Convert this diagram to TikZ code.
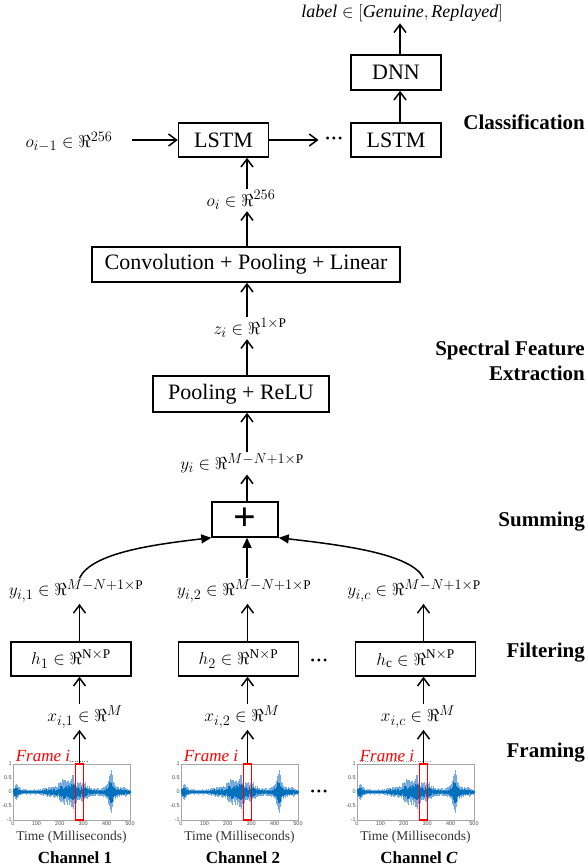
\documentclass[tikz,border=0pt]{standalone}
\usepackage{fontspec}
\setmainfont{Liberation Serif}
\newfontfamily\tickfont{Liberation Sans}
\usepackage{xcolor}
\usetikzlibrary{arrows.meta}

\definecolor{wavedarkc}{RGB}{0,114,189}
\definecolor{wavelightc}{RGB}{120,172,222}

\newcommand{\boxfont}{\fontsize{22}{26}\selectfont}
\newcommand{\labfont}{\fontsize{19}{22}\selectfont}
\newcommand{\headfont}{\fontsize{21}{25}\selectfont\bfseries}

% one channel: left edge, name of the frame box, channel text
\newcommand{\waveplot}[3]{%
	\begin{scope}[shift={(#1,792)}]
		\draw[plotframe] (0,-28) rectangle (117,28);
		\pgfmathsetseed{11}
		\foreach \ms in {0,2,...,500}{
			\pgfmathsetmacro{\wup}{28*env(\ms)*(0.45+0.55*rnd)}
			\pgfmathsetmacro{\wdn}{28*env(\ms)*(0.45+0.55*rnd)}
			\draw[wavelight] (0.234*\ms,-\wup) -- (0.234*\ms,\wdn);
		}
		\pgfmathsetseed{23}
		\foreach \ms in {0,2,...,500}{
			\pgfmathsetmacro{\wup}{15*env(\ms)*(0.3+0.7*rnd)}
			\pgfmathsetmacro{\wdn}{15*env(\ms)*(0.3+0.7*rnd)}
			\draw[wavedark] (0.234*\ms,-\wup) -- (0.234*\ms,\wdn);
		}
		\foreach \v/\l in {-28/1,-14/0.5,0/0,14/-0.5,28/-1}
			\node[ticklab, anchor=east] at (0,\v) {\l};
		\foreach \k in {0,...,5}{
			\pgfmathtruncatemacro{\ticklbl}{100*\k}
			\node[ticklab, anchor=north] at (23.4*\k,28) {\ticklbl};
		}
		\node[framebox] (#2) at (66.5,0) {};
		\node[framelab] at (30,-36) {Frame i};
		\node[timelab] at (58.5,45) {Time (Milliseconds)};
		\node[chanlab] at (62,66) {#3};
	\end{scope}}

\begin{document}
\begin{tikzpicture}[x=1pt,y=-1pt,
	declare function={bump(\t,\c,\w)=1/(1+((\t-\c)/\w)*((\t-\c)/\w));
		env(\t)=0.07+0.25*bump(\t,12,12)+0.08*bump(\t,150,12)+0.35*bump(\t,215,25)+0.45*bump(\t,255,15)+0.25*bump(\t,300,20)+0.8*bump(\t,418,10)+0.1*bump(\t,470,15);},
	block/.style={draw, line width=1.5pt, inner sep=0pt, font=\boxfont},
	lab/.style={font=\labfont, inner sep=1.5pt},
	head/.style={font=\headfont, anchor=east, align=right, inner sep=0pt},
	arr/.style={line width=1.5pt, -{Straight Barb[length=8pt,width=12pt]}},
	sumarr/.style={line width=1.5pt, -{Triangle[length=10pt,width=9pt]}},
	dotsnode/.style={font=\fontsize{12}{12}\selectfont, inner sep=1pt},
	plotframe/.style={draw=black!35, line width=0.4pt},
	wavelight/.style={wavelightc, line width=0.55pt},
	wavedark/.style={wavedarkc, line width=0.55pt},
	ticklab/.style={font=\tickfont\fontsize{5.5}{6}\selectfont, text=black!70, inner sep=1pt},
	framebox/.style={draw=red, line width=1.6pt, minimum width=8pt, minimum height=56pt, inner sep=0pt},
	framelab/.style={font=\fontsize{17}{20}\selectfont\itshape, text=red, inner sep=0pt},
	timelab/.style={font=\fontsize{13.5}{16}\selectfont, text=black!80, inner sep=0pt},
	chanlab/.style={font=\fontsize{17}{20}\selectfont\bfseries, inner sep=0pt}]
	\useasboundingbox (0,0) rectangle (588,868);

	% columns of the arrows
	\coordinate (ctop) at (400,0);
	\coordinate (cmid) at (247,0);

	% classification
	\node[lab, font=\fontsize{18}{22}\selectfont] (out) at (402,13) {$\mathit{label}\in[\mathit{Genuine},\mathit{Replayed}]$};
	\node[block, minimum width=90pt, minimum height=35pt] (dnn) at (396,72.5) {DNN};
	\node[block, minimum width=90pt, minimum height=34pt] (lstmb) at (396,140) {LSTM};
	\node[block, minimum width=90pt, minimum height=34pt] (lstma) at (223.5,140) {LSTM};
	\node[dotsnode] (dots) at (334,140) {\textbullet\kern2pt\textbullet\kern2pt\textbullet};
	\node[lab] (oprev) at (69,142) {$o_{i-1}\in\Re^{256}$};
	\node[lab] (oi) at (241,200) {$o_i\in\Re^{256}$};

	% spectral feature extraction
	\node[block, minimum width=308pt, minimum height=35pt] (conv) at (246,264.5) {Convolution + Pooling + Linear};
	\node[lab] (zi) at (250,328) {$z_i\in\Re^{1\times\mathrm{P}}$};
	\node[block, minimum width=176pt, minimum height=36pt] (pool) at (241,394) {Pooling + ReLU};
	\node[lab] (yi) at (242,463) {$y_i\in\Re^{M-N+1\times\mathrm{P}}$};

	% summing
	\node[block, minimum width=66pt, minimum height=35pt, font=\fontsize{40}{40}\selectfont\bfseries] (plus) at (245,519.5) {+};
	\node[lab] (y1) at (76,591) {$y_{i,1}\in\Re^{M-N+1\times\mathrm{P}}$};
	\node[lab] (y2) at (244,591) {$y_{i,2}\in\Re^{M-N+1\times\mathrm{P}}$};
	\node[lab] (yc) at (414,591) {$y_{i,c}\in\Re^{M-N+1\times\mathrm{P}}$};

	% filtering
	\node[block, minimum width=120pt, minimum height=34pt, font=\labfont] (h1) at (71,659) {$h_1\in\Re^{\mathrm{N}\times\mathrm{P}}$};
	\node[block, minimum width=120pt, minimum height=34pt, font=\labfont] (h2) at (238.5,659) {$h_2\in\Re^{\mathrm{N}\times\mathrm{P}}$};
	\node[block, minimum width=120pt, minimum height=34pt, font=\labfont] (hc) at (415.5,659) {$h_\mathrm{c}\in\Re^{\mathrm{N}\times\mathrm{P}}$};
	\node[dotsnode] (dotsh) at (319,662) {\textbullet\kern2pt\textbullet\kern2pt\textbullet};
	\node[lab] (x1) at (85,717) {$x_{i,1}\in\Re^{M}$};
	\node[lab] (x2) at (242,717) {$x_{i,2}\in\Re^{M}$};
	\node[lab] (xc) at (418,717) {$x_{i,c}\in\Re^{M}$};

	% framing
	\waveplot{13}{f1}{Channel 1}
	\waveplot{181}{f2}{Channel 2}
	\waveplot{357}{fc}{Channel \textit{C}}
	\draw[dotted, black!60] (70,761) -- (88,761);
	\draw[dotted, black!40] (360,761) -- (432,761);
	\node[dotsnode] (dotsw) at (319,793) {\textbullet\kern2pt\textbullet\kern2pt\textbullet};

	% stage names
	\node[head] at (585,122) {Classification};
	\node[head] at (585,361) {Spectral Feature\\Extraction};
	\node[head] at (585,522) {Summing};
	\node[head] at (585,653) {Filtering};
	\node[head] at (585,753) {Framing};

	% connectors
	\draw[arr] (lstmb.north -| ctop) -- (dnn.south -| ctop);
	\draw[arr] (dnn.north -| ctop) -- (out.south -| ctop);
	\draw[arr, shorten <=18pt] (oprev.east |- lstma.west) -- (lstma.west);
	\draw[arr, shorten >=6pt] (lstma.east) -- (dots.west);
	\draw[arr] (oi.north -| cmid) -- (lstma.south -| cmid);
	\draw[arr] (conv.north -| cmid) -- (oi.south -| cmid);
	\draw[arr] (zi.north -| cmid) -- (conv.south -| cmid);
	\draw[arr] (pool.north -| cmid) -- (zi.south -| cmid);
	\draw[arr] (yi.north -| cmid) -- (pool.south -| cmid);
	\draw[arr] (plus.north -| cmid) -- (yi.south -| cmid);
	\draw[sumarr] (y1.north -| f1) .. controls +(12,-25) and +(-60,7) .. (plus.south west);
	\draw[sumarr] (y2.north -| cmid) -- (plus.south -| cmid);
	\draw[sumarr] (yc.north -| fc) .. controls +(-12,-25) and +(60,7) .. (plus.south east);
	\draw[arr] (h1.north -| f1) -- (y1.south -| f1);
	\draw[arr] (h2.north -| f2) -- (y2.south -| f2);
	\draw[arr] (hc.north -| fc) -- (yc.south -| fc);
	\draw[arr] (x1.north -| f1) -- (h1.south -| f1);
	\draw[arr] (x2.north -| f2) -- (h2.south -| f2);
	\draw[arr] (xc.north -| fc) -- (hc.south -| fc);
	\draw[arr] (f1.north) -- (f1.north |- x1.south);
	\draw[arr] (f2.north) -- (f2.north |- x2.south);
	\draw[arr] (fc.north) -- (fc.north |- xc.south);
\end{tikzpicture}
\end{document}
